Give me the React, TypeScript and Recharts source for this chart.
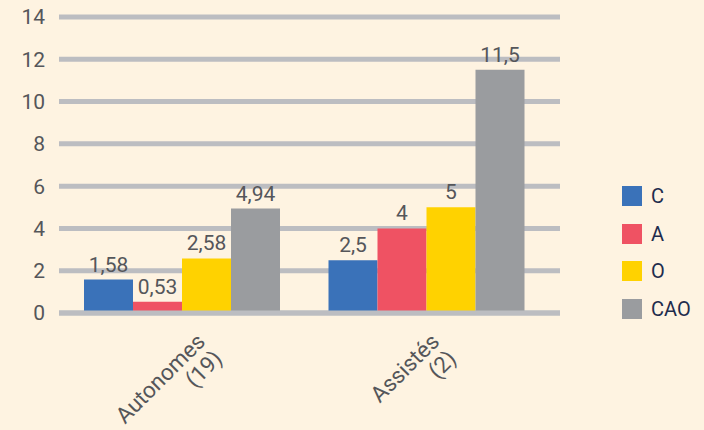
import React from 'react';
import { BarChart, Bar, XAxis, YAxis, CartesianGrid, LabelList, ReferenceLine } from 'recharts';

const categories = ['Autonomes (19)', 'Assistés (2)'];
const seriesC = [1.58, 2.5];
const seriesA = [0.53, 4];
const seriesO = [2.58, 5];
const seriesCAO = [4.94, 11.5];
const yTicks = [0, 2, 4, 6, 8, 10, 12, 14];

const series = [
  { key: 'C', color: '#3A72B9' },
  { key: 'A', color: '#EF5263' },
  { key: 'O', color: '#FFD200' },
  { key: 'CAO', color: '#9A9C9F' },
];

const chartData = categories.map((name, i) => ({
  name,
  C: seriesC[i],
  A: seriesA[i],
  O: seriesO[i],
  CAO: seriesCAO[i],
}));

const FONT = 'Roboto, "DejaVu Sans", sans-serif';
const TEXT = '#55565A';
const GRID = '#BCBDC1';
const CAT_SIZE = 22.5;

let ctx: CanvasRenderingContext2D | null = null;
const measure = (s: string, size: number) => {
  if (!ctx) ctx = document.createElement('canvas').getContext('2d');
  if (!ctx) return s.length * size * 0.55;
  ctx.font = `${size}px Roboto`;
  return ctx.measureText(s).width;
};

const fmt = (v: any) => String(v).replace('.', ',');

const CategoryTick = ({ x, y, payload }: any) => {
  const idx = String(payload.value).lastIndexOf(' ');
  const lines = [payload.value.slice(0, idx), payload.value.slice(idx + 1)];
  const w = Math.max(...lines.map(l => measure(l, CAT_SIZE)));
  const px = x - 15.5 + w * 0.3535;
  const py = y + 30;
  return (
    <g transform={`translate(${px},${py}) rotate(-45)`}>
      <text textAnchor="end" fill={TEXT} fontSize={CAT_SIZE} fontFamily={FONT}>
        <tspan x={0} y={0}>{lines[0]}</tspan>
        <tspan x={0} y={24}>{lines[1]}</tspan>
      </text>
    </g>
  );
};

const LegendBox = () => (
  <div style={{ position: 'absolute', left: 622, top: 186 }}>
    {series.map(s => (
      <div key={s.key} style={{ display: 'flex', alignItems: 'center', height: 20, marginBottom: 17.7 }}>
        <div style={{ width: 20, height: 20, background: s.color }} />
        <span style={{ marginLeft: 9, fontSize: 20, color: '#1E2C4D', fontFamily: FONT }}>{s.key}</span>
      </div>
    ))}
  </div>
);

export default function App() {
  return (
    <div style={{ position: 'absolute', left: 0, top: 0, width: 704, height: 430, background: '#FEF3E1' }}>
      <BarChart
        width={704}
        height={430}
        data={chartData}
        margin={{ top: 17, right: 144, bottom: 0, left: 0 }}
        barGap={0}
        barCategoryGap={25}
      >
        <CartesianGrid vertical={false} stroke={GRID} strokeWidth={5} />
        <XAxis
          dataKey="name"
          height={117}
          tickLine={false}
          axisLine={false}
          tickSize={0}
          tickMargin={0}
          interval={0}
          padding={{ left: 0, right: 12 }}
          tick={<CategoryTick />}
        />
        <YAxis
          width={59}
          domain={[0, 14]}
          ticks={yTicks}
          interval={0}
          tickLine={false}
          axisLine={false}
          tickSize={0}
          tickMargin={14}
          tick={{ fill: TEXT, fontSize: 21, fontFamily: FONT }}
        />
        {series.map(s => (
          <Bar key={s.key} dataKey={s.key} fill={s.color} isAnimationActive={false}>
            <LabelList
              dataKey={s.key}
              position="top"
              offset={8}
              formatter={fmt}
              fill={TEXT}
              fontSize={21}
              fontFamily={FONT}
            />
          </Bar>
        ))}
        <ReferenceLine y={0} stroke={GRID} strokeWidth={5} />
      </BarChart>
      <LegendBox />
    </div>
  );
}
